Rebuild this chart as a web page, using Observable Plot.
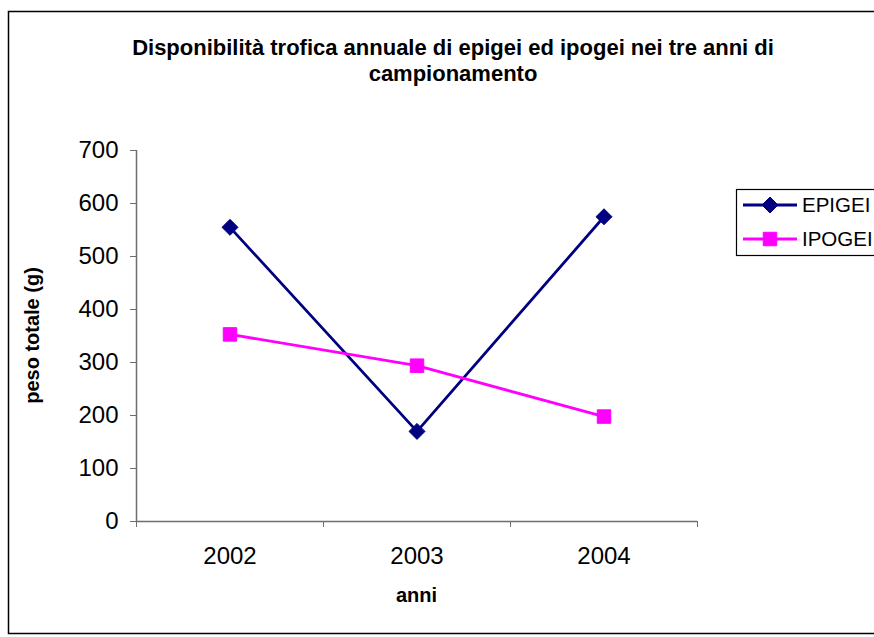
<!DOCTYPE html>
<html>
<head>
<meta charset="utf-8">
<script src="https://cdn.jsdelivr.net/npm/d3@7"></script>
<script src="https://cdn.jsdelivr.net/npm/@observablehq/plot@0.6"></script>
<style>
  html, body { margin: 0; padding: 0; background: #fff; }
  #chart { width: 874px; height: 637px; }
</style>
</head>
<body>
<div id="chart"></div>
<script>
const titleLines = ["Disponibilità trofica annuale di epigei ed ipogei nei tre anni di", "campionamento"];
const years = [2002, 2003, 2004];
const yearBoundaries = [2001.5, 2002.5, 2003.5, 2004.5];
const seriesNames = ["EPIGEI", "IPOGEI"];
const epigei = [555, 170, 575];
const ipogei = [353, 294, 198];
const yTicks = [0, 100, 200, 300, 400, 500, 600, 700];
const yLabel = "peso totale (g)";
const xLabel = "anni";

const colors = {EPIGEI: "#000080", IPOGEI: "#FF00FF"};
const symbols = {EPIGEI: "diamond2", IPOGEI: "square"};
const radius = {EPIGEI: 7.2, IPOGEI: 7.6};

const data = [];
years.forEach((yr, i) => {
  data.push({anno: yr, serie: "EPIGEI", peso: epigei[i]});
  data.push({anno: yr, serie: "IPOGEI", peso: ipogei[i]});
});

const font = "'Liberation Sans', Arial, sans-serif";
const axisColor = "#6e6e6e";

const marks = [
  Plot.ruleY([0], {stroke: axisColor, strokeWidth: 1.5}),
  Plot.ruleX([yearBoundaries[0]], {y1: 0, y2: 700, stroke: axisColor, strokeWidth: 1.5}),
  Plot.axisY({ticks: yTicks, tickSize: 6, tickPadding: 12, fontSize: 24, stroke: axisColor, fill: "black", label: null}),
  Plot.axisX({ticks: yearBoundaries, tickSize: 6, tickFormat: () => "", stroke: axisColor, label: null}),
  Plot.axisX({ticks: years, tickSize: 0, tickPadding: 25, tickFormat: d => String(d), fontSize: 24, fill: "black", label: null})
];
for (const s of seriesNames) {
  const d = data.filter(r => r.serie === s);
  marks.push(Plot.line(d, {x: "anno", y: "peso", stroke: colors[s], strokeWidth: 2.8}));
}
for (const s of seriesNames) {
  const d = data.filter(r => r.serie === s);
  marks.push(Plot.dot(d, {x: "anno", y: "peso", symbol: () => symbols[s], r: radius[s], fill: colors[s], stroke: colors[s], strokeWidth: 1}));
}

const chart = Plot.plot({
  width: 874,
  height: 637,
  marginLeft: 136,
  marginRight: 177,
  marginTop: 150,
  marginBottom: 116,
  style: {fontFamily: font, background: "white", color: "black"},
  x: {type: "linear", domain: [2001.5, 2004.5]},
  y: {domain: [0, 700]},
  symbol: {type: "identity"},
  marks
});
document.getElementById("chart").appendChild(chart);

const svg = d3.select(chart);
// outer border
svg.insert("rect", ":first-child")
  .attr("x", 8.5).attr("y", 11.5).attr("width", 900).attr("height", 622)
  .attr("fill", "white").attr("stroke", "black").attr("stroke-width", 1.5);

// title
svg.append("text")
  .attr("x", 453).attr("y", 55)
  .attr("text-anchor", "middle")
  .attr("font-family", font).attr("font-weight", "bold").attr("font-size", 22)
  .selectAll("tspan").data(titleLines).join("tspan")
  .attr("x", 453).attr("dy", (d, i) => i === 0 ? 0 : 26)
  .text(d => d);

// axis labels
svg.append("text")
  .attr("transform", "translate(39,335.5) rotate(-90)")
  .attr("text-anchor", "middle")
  .attr("font-family", font).attr("font-weight", "bold").attr("font-size", 20)
  .text(yLabel);
svg.append("text")
  .attr("x", 416.5).attr("y", 602)
  .attr("text-anchor", "middle")
  .attr("font-family", font).attr("font-weight", "bold").attr("font-size", 20)
  .text(xLabel);

// legend
const lg = svg.append("g");
lg.append("rect").attr("x", 736.5).attr("y", 189.5).attr("width", 200).attr("height", 66)
  .attr("fill", "white").attr("stroke", "black").attr("stroke-width", 1.2);
seriesNames.forEach((s, i) => {
  const cy = 205 + i * 34;
  lg.append("line").attr("x1", 743).attr("x2", 797).attr("y1", cy).attr("y2", cy)
    .attr("stroke", colors[s]).attr("stroke-width", 2.8);
  const sym = d3.symbol(s === "EPIGEI" ? d3.symbolDiamond2 : d3.symbolSquare, Math.PI * radius[s] * radius[s]);
  lg.append("path").attr("d", sym()).attr("transform", `translate(770,${cy})`)
    .attr("fill", colors[s]).attr("stroke", colors[s]);
  lg.append("text").attr("x", 802).attr("y", cy).attr("dy", "0.36em")
    .attr("text-anchor", "start")
    .attr("font-family", font).attr("font-size", 20.5).text(s);
});
</script>
</body>
</html>
